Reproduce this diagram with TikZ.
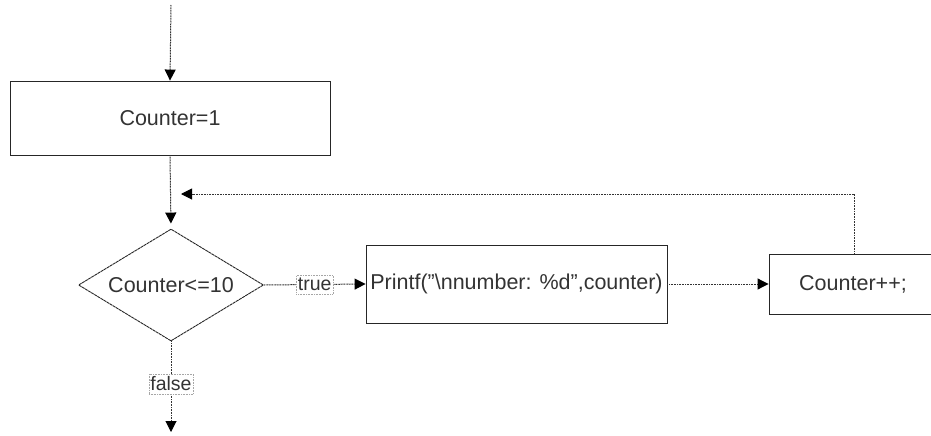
\documentclass[tikz,border=0pt]{standalone}
\usepackage{fontspec}
\setmainfont{Liberation Sans}
\usetikzlibrary{shapes.geometric,arrows.meta}
\definecolor{ink}{HTML}{333333}
\tikzset{
  block/.style={draw=black!85, line width=0.9pt, rectangle, inner sep=0pt, text=ink,
    font=\fontsize{21.5}{25}\selectfont},
  decision/.style={draw=black!85, line width=0.9pt, dash pattern=on 3pt off 0.6pt, diamond, inner sep=0pt,
    minimum width=185pt, minimum height=112pt},
  flow/.style={draw=black!80, line width=1pt, dash pattern=on 1pt off 0.6pt,
    -{Triangle[length=11pt,width=11pt,black]}},
  tag/.style={draw=black!35, densely dotted, line width=0.6pt, fill=white, text=ink,
    inner xsep=1.5pt, inner ysep=3pt, font=\fontsize{19.5}{23}\selectfont},
}
\begin{document}
\begin{tikzpicture}[x=1pt,y=-1pt]
  \useasboundingbox (0,0) rectangle (931,436);
  \clip (0,0) rectangle (931,436);

  % start of the flow and the loop exit
  \coordinate (start) at (171,5);
  \coordinate (exit) at (171,432);
  \coordinate (back) at (181,194);

  % blocks
  \node[block, minimum width=320pt, minimum height=74pt] (init) at (170,118) {Counter=1};
  \node[decision] (cond) at (171,285) {};
  \node[text=ink, font=\fontsize{21.5}{25}\selectfont] at (cond) {Counter<=10};
  \node[block, minimum width=301pt, minimum height=78pt] (print) at (516.5,284)
    {Printf("\textbackslash nnumber: \%d",counter)};
  \node[block, minimum width=168pt, minimum height=60pt] (inc) at (853,284) {Counter++;};

  % connectors
  \draw[flow] (start) -- (init.north);
  \draw[flow, shorten >=5pt] (init.south) -- (cond.north);
  \draw[flow] (cond.east) -- node[tag] {true} (print.west);
  \draw[flow] (print.east) -- (inc.west);
  \draw[flow] (inc.north -| 854,0) |- (back);
  \draw[flow] (cond.south) -- node[tag, pos=0.47] {false} (exit);
\end{tikzpicture}
\end{document}
